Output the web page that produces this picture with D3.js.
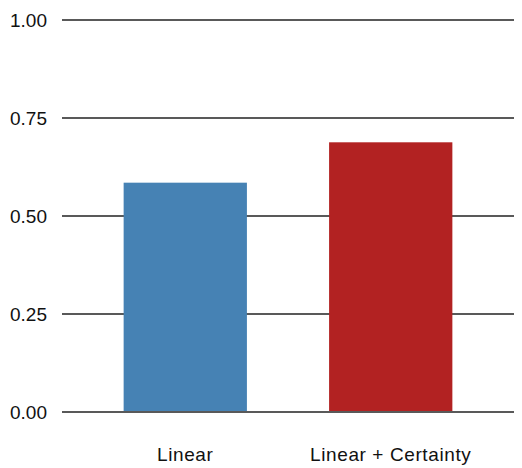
<!DOCTYPE html>
<html><head><meta charset="utf-8">
<script src="https://cdn.jsdelivr.net/npm/d3@7"></script>
<style>body{margin:0;background:#fff}svg{display:block}text{font-family:"Liberation Sans",Arial,Helvetica,sans-serif;fill:#111}</style>
</head><body><svg id="c" width="522" height="468"></svg>
<script>
const categories = ["Linear", "Linear + Certainty"];
const values = [0.585, 0.688];
const colors = ["#4682B4", "#B22222"];
const yTicks = [0, 0.25, 0.5, 0.75, 1.0];
const yTickLabels = ["0.00", "0.25", "0.50", "0.75", "1.00"];

const svg = d3.select("#c");
const y = d3.scaleLinear().domain([0, 1]).range([412, 20]);
const x = d3.scaleBand().domain(categories).range([62, 514]).paddingInner(0.4).paddingOuter(0.3);

svg.append("g").selectAll("line").data(yTicks).join("line")
  .attr("x1", 62).attr("x2", 514)
  .attr("y1", d => y(d)).attr("y2", d => y(d))
  .attr("stroke", "#222").attr("stroke-width", 1.4);

svg.append("g").selectAll("text").data(yTicks).join("text")
  .attr("x", 47).attr("y", d => y(d)).attr("dy", "0.35em")
  .attr("text-anchor", "end").attr("font-size", 19)
  .text((d, i) => yTickLabels[i]);

svg.append("g").selectAll("rect").data(categories).join("rect")
  .attr("x", d => x(d)).attr("width", x.bandwidth())
  .attr("y", (d, i) => y(values[i]))
  .attr("height", (d, i) => y(0) - 1 - y(values[i]))
  .attr("fill", (d, i) => colors[i]);

svg.append("g").selectAll("text").data(categories).join("text")
  .attr("x", d => x(d) + x.bandwidth() / 2).attr("y", 460.5)
  .attr("text-anchor", "middle").attr("font-size", 19)
  .attr("letter-spacing", 0.6)
  .text(d => d);
</script></body></html>
